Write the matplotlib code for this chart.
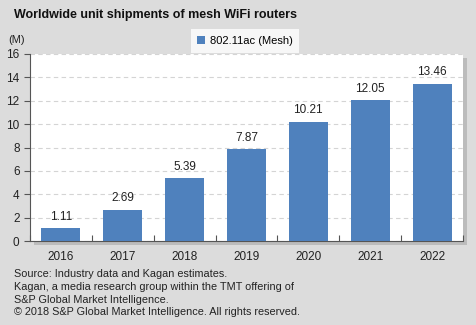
import matplotlib.pyplot as plt
import matplotlib.patheffects as pe

plt.rcParams['font.family'] = ['Liberation Sans', 'DejaVu Sans']

years = ['2016', '2017', '2018', '2019', '2020', '2021', '2022']
shipments = [1.11, 2.69, 5.39, 7.87, 10.21, 12.05, 13.46]
series_name = '802.11ac (Mesh)'

bg = '#dcdcdc'
bar_color = '#4f81bd'

fig = plt.figure(figsize=(4.77, 3.25), dpi=100, facecolor=bg)
ax = fig.add_axes([30 / 477, 1 - 241 / 325, (463 - 30) / 477, (241 - 54) / 325])
ax.set_facecolor('white')

# drop shadow behind the plot area
shadow = plt.Rectangle((0, 0), 1, 1, transform=ax.transAxes, facecolor='white',
                       zorder=-1, clip_on=False,
                       path_effects=[pe.SimplePatchShadow(offset=(3, -3), shadow_rgbFace='#a8a8a8', alpha=0.6),
                                     pe.Normal()])
ax.add_patch(shadow)

x = range(len(years))
bars = ax.bar(x, shipments, width=0.63, color=bar_color, label=series_name, zorder=3)
for xi, v in zip(x, shipments):
    ax.text(xi, v + 0.45, f'{v:.2f}', ha='center', va='bottom', fontsize=8.5, color='#222222', zorder=4)

ax.set_xlim(-0.5, len(years) - 0.5)
ax.set_ylim(0, 16)
ax.set_yticks(range(0, 17, 2))
ax.set_xticks([i + 0.5 for i in range(-1, len(years))], minor=False)
ax.set_xticklabels([])
ax.set_xticks(list(x), minor=True)
ax.set_xticklabels(years, minor=True)
ax.tick_params(axis='x', which='major', length=4, direction='in', color='#555555')
ax.tick_params(axis='x', which='minor', length=0, labelsize=8.5, pad=7, colors='#222222')
ax.tick_params(axis='y', length=4, labelsize=8.5, color='#555555', labelcolor='#222222')
ax.grid(axis='y', linestyle=(0, (4, 3)), color='#d4d4d4', linewidth=0.8, zorder=0)

for side in ['top', 'right']:
    ax.spines[side].set_visible(False)
ax.spines['left'].set_color('#555555')
ax.spines['bottom'].set_color('#555555')

fig.text(14 / 477, 1 - 15 / 325, 'Worldwide unit shipments of mesh WiFi routers',
         fontsize=9, fontweight='bold', va='center', ha='left', color='#111111')
fig.text(8 / 477, 1 - 40 / 325, '(M)', fontsize=8, va='center', ha='left', color='#222222')

leg = fig.legend(handles=[bars], labels=[series_name], loc='center',
                 bbox_to_anchor=(245 / 477, 1 - 41 / 325), fontsize=8,
                 frameon=True, fancybox=False, edgecolor='white', facecolor='white',
                 handlelength=0.7, handleheight=0.7, handletextpad=0.4, borderpad=0.6,
                 borderaxespad=0)
leg.get_frame().set_linewidth(0)

footer = ('Source: Industry data and Kagan estimates.\n'
          'Kagan, a media research group within the TMT offering of\n'
          'S&P Global Market Intelligence.\n'
          '\u00a9 2018 S&P Global Market Intelligence. All rights reserved.')
fig.text(14 / 477, 1 - 269 / 325, footer, fontsize=7.8, va='top', ha='left',
         color='#222222', linespacing=1.35)

fig.savefig('out.png', dpi=100, facecolor=bg)
